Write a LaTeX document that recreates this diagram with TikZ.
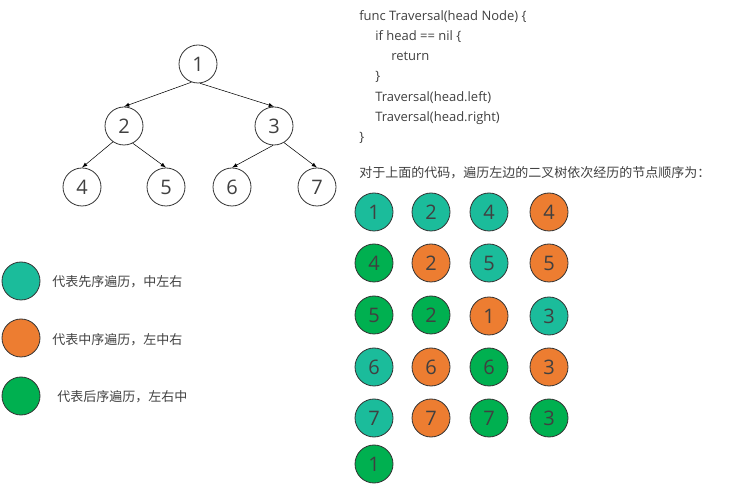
\documentclass[tikz,border=0pt]{standalone}
\usepackage{fontspec}
\setmainfont{Open Sans}
\newfontfamily\cjk{Noto Sans CJK SC}
\usepackage{tikz}
\usetikzlibrary{positioning,arrows}
\definecolor{txtgray}{RGB}{64,64,64}
\definecolor{preC}{RGB}{27,188,155}
\definecolor{inC}{RGB}{237,125,49}
\definecolor{postC}{RGB}{0,176,80}
\begin{document}
\begin{tikzpicture}[
          x=0.75pt,y=-0.75pt,
          treenode/.style={circle,draw=black!80,line width=0.6pt,minimum size=28.5pt,inner sep=0pt,
            text=txtgray,font=\fontsize{15}{15}\selectfont},
          visit/.style={treenode},
          codeline/.style={anchor=base west,inner sep=0pt,text=txtgray,font=\fontsize{9.75}{12}\selectfont},
          legendtxt/.style={anchor=base west,inner sep=0pt,text=txtgray,font=\cjk\fontsize{9.75}{12}\selectfont},
          >=latex
          ]
          \useasboundingbox (0,0) rectangle (739,484);
          % the binary tree
          \node[treenode] (t1) at (198,64) {1};
          \node[treenode] (t2) at (124,126) {2};
          \node[treenode] (t3) at (274,126) {3};
          \node[treenode] (t4) at (82,187) {4};
          \node[treenode] (t5) at (166,187) {5};
          \node[treenode] (t6) at (232,187) {6};
          \node[treenode] (t7) at (317,187) {7};
          % the edges
          \draw[->] (t1.250) -- (t2.north);
          \draw[->] (t1.276) -- (t3.north);
          \draw[->] (t2.235) -- (t4.north);
          \draw[->] (t2.297) -- (t5.north);
          \draw[->] (t3.267) -- (t6.north);
          \draw[->] (t3.301) -- (t7.north);
          % the legend
          \node[visit,fill=preC] (l1) at (21,281) {};
          \node[visit,fill=inC] (l2) at (21,338) {};
          \node[visit,fill=postC] (l3) at (21,396) {};
          \node[legendtxt] (lt1) at (52,287) {代表先序遍历，中左右};
          \node[legendtxt] (lt2) at (52,345) {代表中序遍历，左中右};
          \node[legendtxt] (lt3) at (57,402) {代表后序遍历，左右中};
          % the code
          \foreach \i/\ind/\y/\txt in {1/0/21/{func Traversal(head Node) \{},
                                       2/16/41/{if head == nil \{},
                                       3/32/61/{return},
                                       4/16/81/{\}},
                                       5/16/102/{Traversal(head.left)},
                                       6/16/122/{Traversal(head.right)},
                                       7/0/142/{\}}}
            \node[codeline] (c\i) at (359+\ind,\y) {\txt};
          \node[legendtxt] (order) at (359,178) {对于上面的代码，遍历左边的二叉树依次经历的节点顺序为：};
          % the visiting order
          \foreach \n/\x/\y/\num/\col in {1/374/212/1/preC, 2/431/212/2/preC, 3/489/212/4/preC, 4/549/212/4/inC,
                                         5/374/263/4/postC, 6/431/263/2/inC, 7/489/263/5/preC, 8/549/263/5/inC,
                                         9/374/315/5/postC, 10/431/315/2/postC, 11/489/316/1/inC, 12/549/316/3/preC,
                                         13/374/367/6/preC, 14/431/367/6/inC, 15/489/367/6/postC, 16/549/367/3/inC,
                                         17/374/418/7/preC, 18/431/418/7/inC, 19/489/418/7/postC, 20/549/418/3/postC,
                                         21/374/464/1/postC}
            \node[visit,fill=\col] (s\n) at (\x,\y) {\num};
        \end{tikzpicture}
\end{document}
